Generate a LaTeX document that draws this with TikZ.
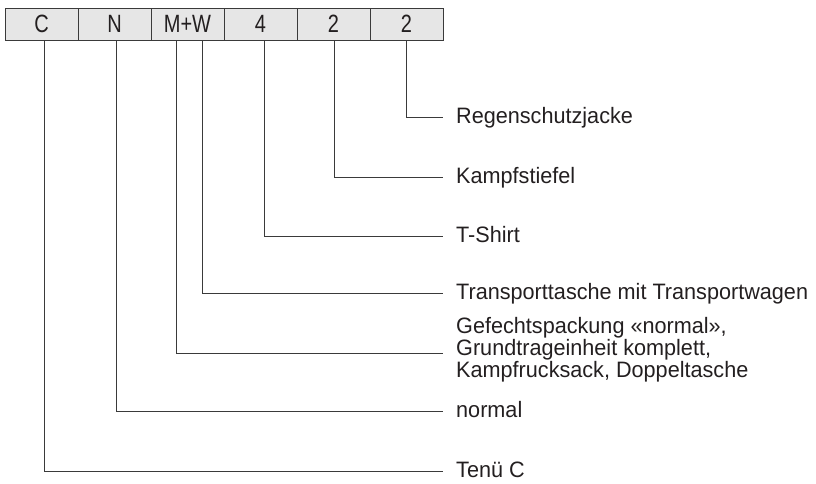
\documentclass[tikz,border=0pt]{standalone}
\usepackage{fontspec}
\setmainfont{Liberation Sans}[FakeStretch=0.97]
\newfontfamily\cellfont[FakeStretch=0.8]{Liberation Sans}
\definecolor{ink}{HTML}{231F20}
\definecolor{wire}{HTML}{3A3A3A}
\definecolor{cellfill}{HTML}{E6E6E6}
\begin{document}
\begin{tikzpicture}[x=1pt,y=-1pt,
  cell/.style={draw=wire,line width=1pt,fill=cellfill,minimum width=73pt,minimum height=32pt,inner sep=0pt,
    font=\cellfont\fontsize{25}{25}\selectfont,text=ink},
  lab/.style={anchor=base west,inner sep=0pt,font=\fontsize{22.3}{19}\selectfont,text=ink,align=left},
  wirel/.style={draw=wire,line width=1pt}]
\useasboundingbox (0,0) rectangle (816,483);
% code cells
\node[cell] (cC)  at (41.5,24)  {C};
\node[cell] (cN)  at (114.5,24) {N};
\node[cell] (cMW) at (187.5,24) {M+W};
\node[cell] (c4)  at (260.5,24) {4};
\node[cell] (c2a) at (333.5,24) {2};
\node[cell] (c2b) at (406.5,24) {2};
% labels
\node[lab] (lR) at (456,123) {Regenschutzjacke};
\node[lab] (lK) at (456,183) {Kampfstiefel};
\node[lab] (lT) at (456,242) {T-Shirt};
\node[lab] (lW) at (456,299) {Transporttasche mit Transportwagen};
\node[lab] (lM) at (456,377) {Gefechtspackung «normal»,\\Grundtrageinheit komplett,\\Kampfrucksack, Doppeltasche};
\node[lab] (lN) at (456,417) {normal};
\node[lab] (lC) at (456,477) {Tenü C};
% connector ends
\coordinate (eR) at (443,117);
\coordinate (eK) at (443,177);
\coordinate (eT) at (443,236);
\coordinate (eW) at (443,293);
\coordinate (eM) at (443,353);
\coordinate (eN) at (443,411);
\coordinate (eC) at (443,471);
% connectors
\draw[wirel] ([xshift=-0.5pt]c2b.south) |- (eR);
\draw[wirel] ([xshift=0.5pt]c2a.south) |- (eK);
\draw[wirel] ([xshift=3.5pt]c4.south) |- (eT);
\draw[wirel] ([xshift=14.5pt]cMW.south) |- (eW);
\draw[wirel] ([xshift=-11.5pt]cMW.south) |- (eM);
\draw[wirel] ([xshift=1.5pt]cN.south) |- (eN);
\draw[wirel] ([xshift=2.5pt]cC.south) |- (eC);
\end{tikzpicture}
\end{document}
